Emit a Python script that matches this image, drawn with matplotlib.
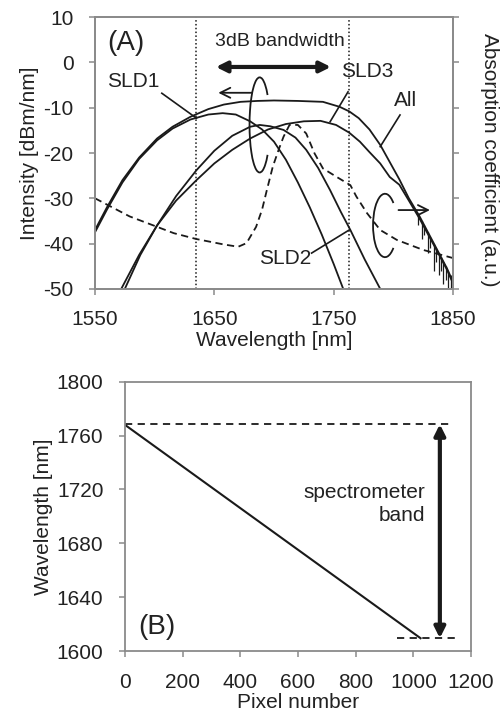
import matplotlib
matplotlib.use("Agg")
import matplotlib.pyplot as plt
from matplotlib.patches import Arc

plt.rcParams["font.family"] = ["Liberation Sans", "DejaVu Sans"]
plt.rcParams["axes.unicode_minus"] = False

# ---- panel A: spectra (wavelength nm, intensity dBm/nm) ----
all_wl = [1550, 1560, 1573, 1587, 1602, 1615, 1630, 1645, 1658, 1672, 1686, 1700, 1720, 1741,
          1755, 1763, 1771, 1780, 1789, 1797, 1805, 1813, 1822, 1830, 1839, 1845, 1850]
all_db = [-37, -32, -26, -21, -16.8, -14.2, -12, -10.3, -9.3, -8.7, -8.5, -8.4, -8.5, -8.7,
          -9.8, -10.8, -12.3, -14.8, -18.2, -22, -25.8, -30, -34, -38, -42.5, -45.5, -48.5]

sld1_wl = [1550, 1560, 1573, 1587, 1602, 1615, 1630, 1645, 1657, 1668, 1680, 1690, 1700,
           1710, 1720, 1730, 1740, 1750, 1758]
sld1_db = [-37.5, -32.5, -26.5, -21.3, -17.2, -14.6, -12.6, -11.5, -11.2, -11.5, -13, -14.8,
           -17.5, -21.5, -26.5, -32, -38, -44.5, -50]

sld2_wl = [1575, 1588, 1602, 1618, 1635, 1650, 1665, 1680, 1688, 1697, 1708, 1718, 1727,
           1737, 1747, 1756, 1764, 1776, 1789]
sld2_db = [-50, -42.5, -36, -29.5, -23.8, -19.5, -16.2, -14.2, -13.8, -14.1, -14.9, -16.6,
           -19.3, -23.3, -28.2, -33, -37, -43.5, -50]

sld3_wl = [1572, 1587, 1602, 1618, 1635, 1650, 1665, 1680, 1695, 1710, 1725, 1739, 1752,
           1763, 1772, 1780, 1789, 1797, 1805, 1813, 1822, 1830, 1839, 1845, 1850]
sld3_db = [-50, -42.5, -36, -30.5, -26, -22.3, -19.3, -16.8, -14.8, -13.6, -13, -12.9, -13.8,
           -15.5, -17.5, -19.8, -22.3, -25.3, -27, -30.5, -34.5, -38.4, -42.8, -45.8, -48.8]

abs_wl = [1550, 1563, 1579, 1602, 1616, 1635, 1658, 1670, 1677, 1685, 1690, 1694, 1699, 1704,
          1708, 1713, 1720, 1727, 1734, 1741, 1752, 1764, 1769, 1778, 1789, 1803, 1825, 1850]
abs_db = [-30, -31.8, -34, -36.3, -37.7, -39, -40.2, -40.7, -39.9, -36.3, -32.5, -28.2, -23,
          -19.2, -16.4, -13.8, -13.8, -15.7, -20.1, -23.4, -25.2, -27.1, -29.6, -33.3, -37,
          -39.2, -41.4, -43.2]

# noise spikes on the long-wavelength tail of "All"
spike_wl = [1821, 1824, 1826, 1829, 1831, 1834, 1836, 1838, 1840, 1842, 1844, 1846, 1848]
spike_top = [-33.5, -35, -36, -37.5, -38.5, -40, -41, -42, -43, -44, -45, -46, -47]
spike_bot = [-36, -39, -38, -42, -41, -46, -44, -47, -46, -49, -48, -50, -50]

bw_edges = [1635, 1763]

# ---- panel B: pixel calibration ----
pix = [0, 1025]
pix_wl = [1768, 1609.5]
band_top, band_bot = 1768.5, 1609.5

ink = "#1a1a1a"
txt = "#222222"
spine_c = "#8a8a8a"
fs = 15

fig = plt.figure(figsize=(5, 7.15), dpi=100)
ax = fig.add_axes([0.19, 0.596, 0.716, 0.380])
axb = fig.add_axes([0.25, 0.0895, 0.692, 0.3765])

ax.plot(all_wl, all_db, color=ink, lw=1.3)
ax.plot(sld1_wl, sld1_db, color=ink, lw=1.3)
ax.plot(sld2_wl, sld2_db, color=ink, lw=1.3)
ax.plot(sld3_wl, sld3_db, color=ink, lw=1.3)
ax.plot(abs_wl, abs_db, color=ink, lw=1.3, ls=(0, (4, 2.5)))
ax.vlines(spike_wl, spike_bot, spike_top, color=ink, lw=0.9)
for x in bw_edges:
    ax.axvline(x, color=ink, lw=1.1, ls=(0, (1, 1.5)))

ax.set_xlim(1550, 1850)
ax.set_ylim(-50, 10)
ax.set_xticks([1550, 1650, 1750, 1850])
ax.set_yticks(range(-50, 11, 10))
ax.set_xlabel("Wavelength [nm]", fontsize=fs, color=txt, labelpad=1)
ax.set_ylabel("Intensity [dBm/nm]", fontsize=fs, color=txt, labelpad=3)

ax2 = ax.twinx()
ax2.set_ylim(-50, 10)
ax2.set_yticks(range(-50, 11, 10))
ax2.set_yticklabels([])
fig.text(0.979, 0.776, "Absorption coefficient (a.u.)", fontsize=fs, color=txt,
         rotation=270, ha="center", va="center")

# annotations
ax.text(1576, 4.2, "(A)", fontsize=20, color=txt, ha="center", va="center")
ax.text(1705, 4.6, "3dB bandwidth", fontsize=fs - 1, color=txt, ha="center", va="center")
ax.annotate("", xy=(1649, -1), xytext=(1750, -1),
            arrowprops=dict(arrowstyle="<|-|>", color=ink, lw=3, mutation_scale=16))
ax.annotate("", xy=(1651, -6.7), xytext=(1684, -6.7),
            arrowprops=dict(arrowstyle="->", color=ink, lw=1.3, mutation_scale=18))
ax.annotate("", xy=(1833, -32.6), xytext=(1802, -32.6),
            arrowprops=dict(arrowstyle="->", color=ink, lw=1.3, mutation_scale=18))
ax.add_patch(Arc((1688, -13.8), 17, 21, theta1=45, theta2=315, color=ink, lw=1.3))
ax.add_patch(Arc((1793, -36), 20, 14, theta1=35, theta2=325, color=ink, lw=1.3))

ax.text(1582, -4.3, "SLD1", fontsize=fs, color=txt, ha="center", va="center")
ax.plot([1606, 1635], [-6.8, -12.3], color=ink, lw=1.2)
ax.text(1778, -2.1, "SLD3", fontsize=fs, color=txt, ha="center", va="center")
ax.plot([1762, 1747], [-6.5, -13.1], color=ink, lw=1.2)
ax.text(1810, -8.3, "All", fontsize=fs, color=txt, ha="center", va="center")
ax.plot([1805.6, 1789], [-11.6, -18.6], color=ink, lw=1.2)
ax.text(1709, -43.2, "SLD2", fontsize=fs, color=txt, ha="center", va="center")
ax.plot([1731.5, 1763], [-42.1, -37], color=ink, lw=1.2)

# panel B
axb.plot(pix, pix_wl, color=ink, lw=1.5)
axb.plot([0, 1133], [band_top, band_top], color=ink, lw=1.3, ls=(0, (4, 3)))
axb.plot([942, 1148], [band_bot, band_bot], color=ink, lw=1.3, ls=(0, (4, 3)))
axb.annotate("", xy=(1092, band_top), xytext=(1092, band_bot),
             arrowprops=dict(arrowstyle="<|-|>", color=ink, lw=3, mutation_scale=16,
                             shrinkA=0, shrinkB=0))
axb.text(1040, 1709, "spectrometer\nband", fontsize=fs, color=txt, ha="right", va="center",
         linespacing=1.25)
axb.text(110, 1618, "(B)", fontsize=20, color=txt, ha="center", va="center")
axb.set_xlim(0, 1200)
axb.set_ylim(1600, 1800)
axb.set_xticks(range(0, 1201, 200))
axb.set_yticks(range(1600, 1801, 40))
axb.set_xlabel("Pixel number", fontsize=fs, color=txt, labelpad=1)
axb.set_ylabel("Wavelength [nm]", fontsize=fs, color=txt, labelpad=3)

for a in (ax, ax2, axb):
    for s in a.spines.values():
        s.set_color(spine_c)
        s.set_linewidth(1.3)
    a.tick_params(direction="out", length=4.5, width=1.1, color=spine_c, labelsize=fs,
                  labelcolor=txt, pad=11)

fig.savefig("out.png", dpi=100)
